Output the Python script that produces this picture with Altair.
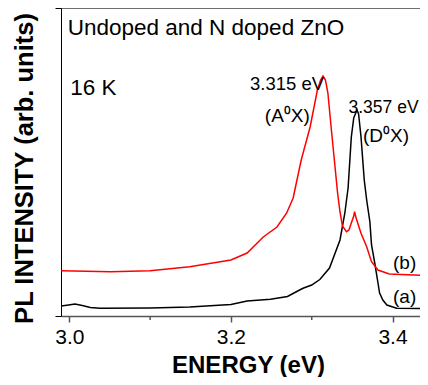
import altair as alt
import pandas as pd

# Curve (a): undoped ZnO (black)
a_energy = [2.990, 2.999, 3.007, 3.016, 3.026, 3.038, 3.100, 3.149, 3.200, 3.220,
            3.249, 3.270, 3.285, 3.290, 3.300, 3.310, 3.322, 3.335, 3.341, 3.345,
            3.349, 3.352, 3.356, 3.358, 3.361, 3.365, 3.368, 3.372, 3.374, 3.378,
            3.382, 3.384, 3.388, 3.393, 3.405, 3.444]
a_intensity = [10, 11, 12, 10.5, 8.5, 7.7, 8, 9, 11.5, 15,
               16.7, 19.5, 26, 28, 31, 36.5, 48, 76, 103, 128,
               179, 198, 206, 202, 179, 136, 116, 94, 71, 53,
               33, 23, 16, 11, 7.7, 7.5]

# Curve (b): N doped ZnO (red)
b_energy = [2.990, 3.051, 3.100, 3.149, 3.200, 3.220, 3.240, 3.257, 3.269, 3.277,
            3.287, 3.298, 3.307, 3.311, 3.314, 3.317, 3.320, 3.324, 3.328, 3.332,
            3.335, 3.338, 3.343, 3.346, 3.349, 3.352, 3.353, 3.355, 3.361, 3.368,
            3.374, 3.382, 3.396, 3.444]
b_intensity = [45.3, 44.3, 45.3, 49.3, 56, 63, 79, 89, 103, 118,
               156, 189, 226, 236, 240, 236, 223, 189, 156, 123,
               104, 90, 84.3, 86, 93, 100, 104.3, 97.7, 82.7, 69.3,
               54.3, 46, 42, 40.3]

# Annotations
ann_text = ["Undoped and N doped ZnO", "16 K", "3.315 eV", "(A\u2070X)",
            "3.357 eV", "(D\u2070X)", "(b)", "(a)"]
ann_x = [2.998, 3.001, 3.2237, 3.242, 3.3455, 3.3635, 3.4006, 3.4006]
ann_y = [281, 221, 226, 194, 203, 174, 47, 13]
ann_size = [22.5, 22.5, 18.5, 19, 17.5, 19, 19, 19]

major_ticks = [3.0, 3.2, 3.4]
minor_ticks = [3.1, 3.3]

W, H = 359, 308
FONT = "Liberation Sans, Arial, sans-serif"

df = pd.concat([
    pd.DataFrame({"E": a_energy, "I": a_intensity, "s": "a"}),
    pd.DataFrame({"E": b_energy, "I": b_intensity, "s": "b"}),
])
ann = pd.DataFrame({"t": ann_text, "x": ann_x, "y": ann_y, "fs": ann_size})

xscale = alt.Scale(domain=[2.9897, 3.4340], nice=False, zero=False)
yscale = alt.Scale(domain=[0, 308], nice=False, zero=False)

lines = alt.Chart(df).mark_line(strokeWidth=1.5, clip=True).encode(
    x=alt.X("E:Q", scale=xscale, axis=alt.Axis(
        values=major_ticks, format=".1f", tickSize=6, labelPadding=4,
        domainColor="#555", domainWidth=1.5, tickColor="#555", tickWidth=1.5,
        labelFontSize=21, labelColor="black", labelFont=FONT,
        title="ENERGY (eV)", titleFontSize=24, titleFontWeight="bold",
        titleFont=FONT, titlePadding=6, titleColor="black", titleX=187,
        grid=False)),
    y=alt.Y("I:Q", scale=yscale, axis=alt.Axis(
        values=[0, 308], labels=False, tickSize=6, domainColor="black",
        tickColor="black", title="PL  INTENSITY (arb. units)",
        titleFontSize=25.5, titleFontWeight="bold", titleFont=FONT,
        titlePadding=17, titleColor="black", titleY=160, grid=False)),
    color=alt.Color("s:N", scale=alt.Scale(domain=["a", "b"], range=["#000000", "#ff0000"]),
                    legend=None),
)

minor = alt.Chart(pd.DataFrame({"E": minor_ticks})).mark_rule(
    color="#555", strokeWidth=1.5).encode(
    x=alt.X("E:Q", scale=xscale), y=alt.value(H), y2=alt.value(H + 4))

top = alt.Chart(pd.DataFrame({"E": [0]})).mark_rule(color="black", strokeWidth=1).encode(
    x=alt.value(0), x2=alt.value(W), y=alt.value(0))

texts = alt.Chart(ann).mark_text(align="left", baseline="alphabetic", font=FONT,
                                 color="black").encode(
    x=alt.X("x:Q", scale=xscale), y=alt.Y("y:Q", scale=yscale),
    text="t:N", size=alt.Size("fs:Q", scale=None))

chart = alt.layer(lines, minor, top, texts).properties(
    width=W, height=H,
    autosize=alt.AutoSizeParams(type="none"),
    padding={"left": 53, "top": 0, "right": 0, "bottom": 61},
).configure_view(stroke=None).configure(background="white")

chart.save("out.html", embed_options={"renderer": "svg", "actions": False})
